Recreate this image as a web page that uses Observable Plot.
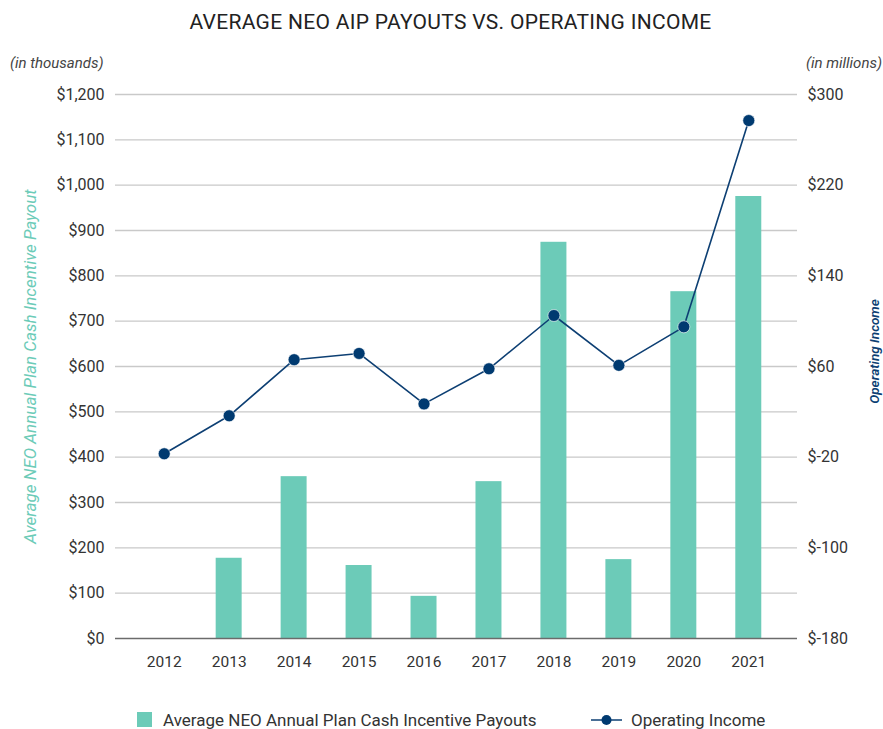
<!DOCTYPE html>
<html>
<head>
<meta charset="utf-8">
<script src="https://cdn.jsdelivr.net/npm/d3@7"></script>
<script src="https://cdn.jsdelivr.net/npm/@observablehq/plot@0.6"></script>
<style>
  html, body { margin: 0; padding: 0; background: #fff; }
  body { width: 883px; height: 729px; overflow: hidden; font-family: Roboto, "Noto Sans", sans-serif; position: relative; }
  #title { position: absolute; left: 9px; top: 0; width: 883px; height: 44px; line-height: 44px; text-align: center; font-size: 21px; color: #222; letter-spacing: 0.3px; }
  .unit { position: absolute; top: 54px; font-size: 15px; font-style: italic; color: #444; }
  #chart { position: absolute; left: 0; top: 82px; }
  #legend { position: absolute; left: 0; top: 700px; width: 883px; height: 29px; font-size: 17px; color: #333; }
  .lg { position: absolute; top: 10px; line-height: 20px; white-space: nowrap; }
</style>
</head>
<body>
<div id="title">AVERAGE NEO AIP PAYOUTS VS. OPERATING INCOME</div>
<div class="unit" style="left:10px;">(in thousands)</div>
<div class="unit" style="right:1px;">(in millions)</div>
<div id="chart"></div>
<div id="legend">
  <svg style="position:absolute;left:137px;top:12px" width="16" height="16"><rect width="15" height="15" fill="#6ccbb8"></rect></svg>
  <div class="lg" style="left:163px;">Average NEO Annual Plan Cash Incentive Payouts</div>
  <svg style="position:absolute;left:590px;top:12px" width="34" height="16"><line x1="1" x2="32" y1="8" y2="8" stroke="#0d3f73" stroke-width="1.5"></line><circle cx="16.5" cy="8" r="5" fill="#003a70"></circle></svg>
  <div class="lg" style="left:631px;">Operating Income</div>
</div>
<script>
const years = ["2012","2013","2014","2015","2016","2017","2018","2019","2020","2021"];
const aipPayout = [0, 177, 357, 161, 93, 346, 874, 174, 765, 975];        // $ thousands
const operatingIncome = [-17, 16.5, 66, 71.5, 27, 58, 105, 61, 95, 277]; // $ millions
const leftTicks = [0,100,200,300,400,500,600,700,800,900,1000,1100,1200];
const rightTicks = [-180,-100,-20,60,140,220,300];
const leftTitle = "Average NEO Annual Plan Cash Incentive Payout";
const rightTitle = "Operating Income";

const table = years.map((y, i) => ({year: y, aip: aipPayout[i], income: operatingIncome[i]}));
// map right-axis (millions) domain onto the left-axis scale
const toLeft = d3.scaleLinear().domain([-180, 300]).range([0, 1200]);

const teal = "#6ccbb8";
const navy = "#003a70";

const chart = Plot.plot({
  width: 883,
  height: 596,
  marginTop: 12,
  marginBottom: 40,
  marginLeft: 115,
  marginRight: 86,
  style: {fontFamily: "Roboto, sans-serif", fontSize: "16px", color: "#333", background: "#fff"},
  x: {domain: years, paddingInner: 0.6, paddingOuter: 0.55, round: false, label: null},
  y: {domain: [0, 1200], label: null},
  marks: [
    Plot.ruleY(leftTicks.filter(d => d > 0), {stroke: "#c9c9c9", strokeWidth: 1.3}),
    Plot.barY(table, {x: "year", y: "aip", fill: teal}),
    Plot.ruleY([0], {stroke: "#6b6b6b", strokeWidth: 1.5}),
    Plot.line(table, {x: "year", y: d => toLeft(d.income), stroke: "#0d3f73", strokeWidth: 1.6}),
    Plot.dot(table, {x: "year", y: d => toLeft(d.income), r: 6, fill: navy, stroke: "#fff", strokeWidth: 0.6}),
    Plot.axisY(leftTicks, {anchor: "left", tickSize: 0, tickPadding: 11, tickFormat: d => "$" + d3.format(",")(d), label: null}),
    Plot.axisY(rightTicks.map(v => toLeft(v)), {anchor: "right", tickSize: 0, tickPadding: 10, tickFormat: d => "$" + Math.round(toLeft.invert(d)), label: null}),
    Plot.axisX({tickSize: 0, tickPadding: 17, fontSize: 15.5, label: null}),
    Plot.text([leftTitle], {text: d => d, frameAnchor: "left", textAnchor: "middle", rotate: -90, dx: -85, fill: teal, fontStyle: "italic", fontSize: 17}),
    Plot.text([rightTitle], {text: d => d, frameAnchor: "right", textAnchor: "middle", rotate: -90, dx: 77, dy: -15, fill: "#0d3f73", fontStyle: "italic", fontWeight: 600, fontSize: 13.5})
  ]
});
document.getElementById("chart").appendChild(chart);
</script>
</body>
</html>
